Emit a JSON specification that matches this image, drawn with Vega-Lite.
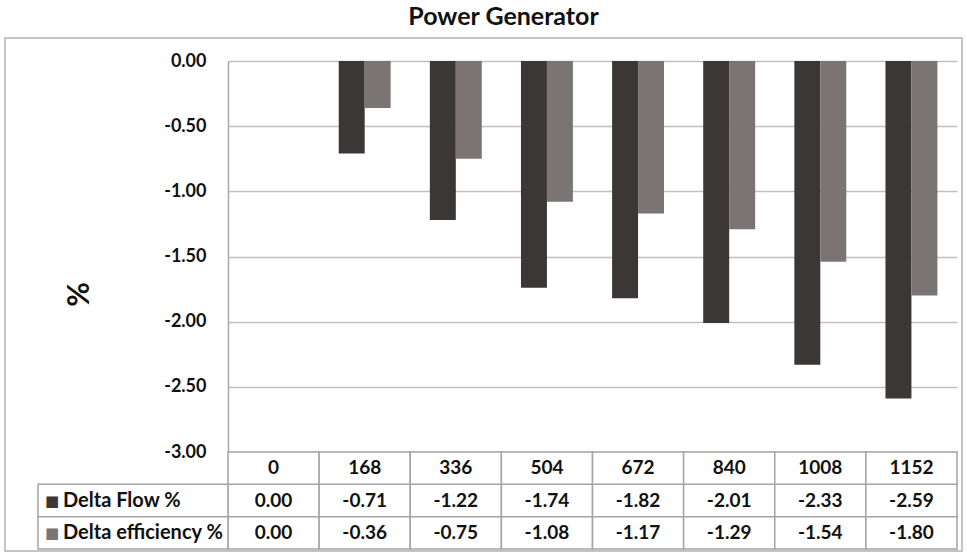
{
  "$schema": "https://vega.github.io/schema/vega-lite/v6.json",
  "width": 957,
  "height": 513,
  "title": {
    "text": "Power Generator",
    "font": "Lato",
    "fontSize": 25,
    "fontWeight": "bold",
    "color": "#111111",
    "offset": 8,
    "dx": 20
  },
  "config": {
    "locale": {"number": {"decimal": ".", "thousands": ",", "grouping": [3], "currency": ["$", ""], "minus": "-"}},
    "font": "Lato",
    "view": {"stroke": "#c4c4c4", "strokeWidth": 2},
    "text": {"font": "Lato", "fontWeight": "bold", "fontSize": 19, "color": "#111111"}
  },
  "datasets": {
    "gen": [
      {"hours": "0", "series": "Delta Flow %", "value": 0.0},
      {"hours": "168", "series": "Delta Flow %", "value": -0.71},
      {"hours": "336", "series": "Delta Flow %", "value": -1.22},
      {"hours": "504", "series": "Delta Flow %", "value": -1.74},
      {"hours": "672", "series": "Delta Flow %", "value": -1.82},
      {"hours": "840", "series": "Delta Flow %", "value": -2.01},
      {"hours": "1008", "series": "Delta Flow %", "value": -2.33},
      {"hours": "1152", "series": "Delta Flow %", "value": -2.59},
      {"hours": "0", "series": "Delta efficiency %", "value": 0.0},
      {"hours": "168", "series": "Delta efficiency %", "value": -0.36},
      {"hours": "336", "series": "Delta efficiency %", "value": -0.75},
      {"hours": "504", "series": "Delta efficiency %", "value": -1.08},
      {"hours": "672", "series": "Delta efficiency %", "value": -1.17},
      {"hours": "840", "series": "Delta efficiency %", "value": -1.29},
      {"hours": "1008", "series": "Delta efficiency %", "value": -1.54},
      {"hours": "1152", "series": "Delta efficiency %", "value": -1.80}
    ]
  },
  "data": {"name": "gen"},
  "resolve": {"scale": {"x": "independent", "y": "independent", "color": "independent"}},
  "layer": [
    {
      "mark": {"type": "bar"},
      "encoding": {
        "x": {
          "field": "hours", "type": "nominal",
          "sort": ["0", "168", "336", "504", "672", "840", "1008", "1152"],
          "scale": {"type": "band", "range": [223, 952], "paddingInner": 0.43, "paddingOuter": 0.215},
          "axis": null
        },
        "xOffset": {"field": "series", "type": "nominal", "sort": ["Delta Flow %", "Delta efficiency %"]},
        "y": {
          "field": "value", "type": "quantitative",
          "scale": {"domain": [-3, 0], "range": [414, 23], "nice": false, "zero": false},
          "axis": {
            "orient": "left",
            "offset": -223,
            "values": [0, -0.5, -1, -1.5, -2, -2.5, -3],
            "format": ".2f",
            "labelFont": "Lato",
            "labelFontSize": 18,
            "labelFontWeight": "bold",
            "labelColor": "#111111",
            "labelPadding": 22,
            "ticks": false,
            "domain": true,
            "domainColor": "#a8a8a8",
            "domainWidth": 1.5,
            "grid": true,
            "gridColor": "#c0c0c0",
            "gridWidth": 1.5,
            "title": "%",
            "titleFont": "Lato",
            "titleFontSize": 30,
            "titleFontWeight": "bold",
            "titleColor": "#111111",
            "titleX": -134,
            "titleY": 256
          }
        },
        "color": {
          "field": "series", "type": "nominal",
          "scale": {"domain": ["Delta Flow %", "Delta efficiency %"], "range": ["#3c3737", "#7a7474"]},
          "legend": null
        }
      }
    },
    {
      "mark": {"type": "rect", "fill": "white", "stroke": "#a4a4a4", "strokeWidth": 1.5},
      "encoding": {
        "x": {"field": "hours", "type": "nominal", "sort": ["0", "168", "336", "504", "672", "840", "1008", "1152"],
              "scale": {"type": "band", "range": [223, 952], "padding": 0}, "axis": null},
        "y": {"field": "series", "type": "nominal",
              "scale": {"type": "band", "domain": ["hours", "Delta Flow %", "Delta efficiency %"], "range": [414, 511], "padding": 0}, "axis": null}
      }
    },
    {
      "transform": [{"filter": "datum.series === 'Delta Flow %'"}],
      "mark": {"type": "rect", "fill": "white", "stroke": "#a4a4a4", "strokeWidth": 1.5},
      "encoding": {
        "x": {"field": "hours", "type": "nominal", "sort": ["0", "168", "336", "504", "672", "840", "1008", "1152"],
              "scale": {"type": "band", "range": [223, 952], "padding": 0}, "axis": null},
        "y": {"datum": "hours", "type": "nominal",
              "scale": {"type": "band", "domain": ["hours", "Delta Flow %", "Delta efficiency %"], "range": [414, 511], "padding": 0}, "axis": null}
      }
    },
    {
      "mark": {"type": "text", "align": "center", "baseline": "middle"},
      "encoding": {
        "x": {"field": "hours", "type": "nominal", "sort": ["0", "168", "336", "504", "672", "840", "1008", "1152"],
              "scale": {"type": "band", "range": [223, 952], "padding": 0}, "axis": null},
        "y": {"field": "series", "type": "nominal",
              "scale": {"type": "band", "domain": ["hours", "Delta Flow %", "Delta efficiency %"], "range": [414, 511], "padding": 0}, "axis": null},
        "text": {"field": "value", "type": "quantitative", "format": ".2f"}
      }
    },
    {
      "transform": [{"filter": "datum.series === 'Delta Flow %'"}],
      "mark": {"type": "text", "align": "center", "baseline": "middle"},
      "encoding": {
        "x": {"field": "hours", "type": "nominal", "sort": ["0", "168", "336", "504", "672", "840", "1008", "1152"],
              "scale": {"type": "band", "range": [223, 952], "padding": 0}, "axis": null},
        "y": {"datum": "hours", "type": "nominal",
              "scale": {"type": "band", "domain": ["hours", "Delta Flow %", "Delta efficiency %"], "range": [414, 511], "padding": 0}, "axis": null},
        "text": {"field": "hours", "type": "nominal"}
      }
    },
    {
      "transform": [{"filter": "datum.hours === '0'"}],
      "mark": {"type": "rect", "fill": "white", "stroke": "#a4a4a4", "strokeWidth": 1.5},
      "encoding": {
        "x": {"datum": "label", "type": "nominal", "scale": {"type": "band", "domain": ["label"], "range": [33, 223], "padding": 0}, "axis": null},
        "y": {"field": "series", "type": "nominal",
              "scale": {"type": "band", "domain": ["hours", "Delta Flow %", "Delta efficiency %"], "range": [414, 511], "padding": 0}, "axis": null}
      }
    },
    {
      "transform": [{"filter": "datum.hours === '0'"}],
      "mark": {"type": "text", "align": "left", "baseline": "middle", "dx": 7, "font": "DejaVu Sans", "fontSize": 15, "text": "■"},
      "encoding": {
        "x": {"datum": "label", "type": "nominal", "bandPosition": 0, "scale": {"type": "band", "domain": ["label"], "range": [33, 223], "padding": 0}, "axis": null},
        "y": {"field": "series", "type": "nominal",
              "scale": {"type": "band", "domain": ["hours", "Delta Flow %", "Delta efficiency %"], "range": [414, 511], "padding": 0}, "axis": null},
        "color": {"field": "series", "type": "nominal",
                  "scale": {"domain": ["Delta Flow %", "Delta efficiency %"], "range": ["#3c3737", "#7a7474"]}, "legend": null}
      }
    },
    {
      "transform": [{"filter": "datum.hours === '0'"}],
      "mark": {"type": "text", "align": "left", "baseline": "middle", "dx": 25, "fontSize": 20},
      "encoding": {
        "x": {"datum": "label", "type": "nominal", "bandPosition": 0, "scale": {"type": "band", "domain": ["label"], "range": [33, 223], "padding": 0}, "axis": null},
        "y": {"field": "series", "type": "nominal",
              "scale": {"type": "band", "domain": ["hours", "Delta Flow %", "Delta efficiency %"], "range": [414, 511], "padding": 0}, "axis": null},
        "text": {"field": "series", "type": "nominal"}
      }
    }
  ]
}
